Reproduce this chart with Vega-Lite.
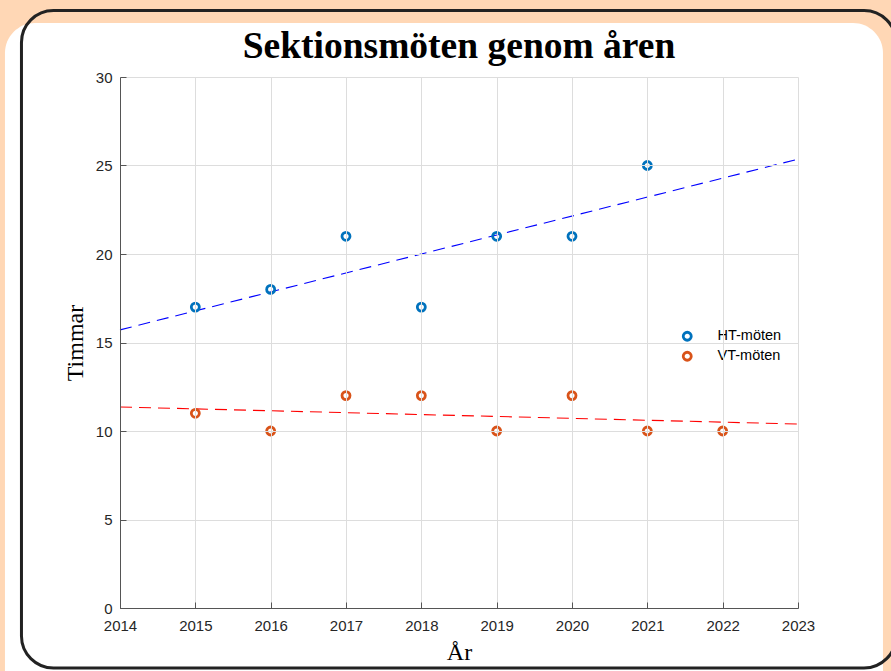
{
  "$schema": "https://vega.github.io/schema/vega-lite/v6.json",
  "width": 678,
  "height": 531,
  "autosize": {"type": "none"},
  "padding": {"left": 120, "top": 77, "right": 93, "bottom": 63},
  "background": "#FFD7B5",
  "title": {
    "text": "Sektionsmöten genom åren",
    "font": "Liberation Serif",
    "fontSize": 37.5,
    "fontWeight": "bold",
    "color": "#000000",
    "anchor": "middle",
    "frame": "group",
    "offset": -57
  },
  "datasets": {
    "points": [
      {"year": 2015, "hours": 17, "series": "HT-möten"},
      {"year": 2016, "hours": 18, "series": "HT-möten"},
      {"year": 2017, "hours": 21, "series": "HT-möten"},
      {"year": 2018, "hours": 17, "series": "HT-möten"},
      {"year": 2019, "hours": 21, "series": "HT-möten"},
      {"year": 2020, "hours": 21, "series": "HT-möten"},
      {"year": 2021, "hours": 25, "series": "HT-möten"},
      {"year": 2015, "hours": 11, "series": "VT-möten"},
      {"year": 2016, "hours": 10, "series": "VT-möten"},
      {"year": 2017, "hours": 12, "series": "VT-möten"},
      {"year": 2018, "hours": 12, "series": "VT-möten"},
      {"year": 2019, "hours": 10, "series": "VT-möten"},
      {"year": 2020, "hours": 12, "series": "VT-möten"},
      {"year": 2021, "hours": 10, "series": "VT-möten"},
      {"year": 2022, "hours": 10, "series": "VT-möten"}
    ]
  },
  "layer": [
    {
      "data": {"values": [{}]},
      "mark": {"type": "rect", "fill": "#FFFFFF", "cornerRadius": 30},
      "encoding": {
        "x": {"datum": 2012.473, "type": "quantitative", "axis": null, "scale": {"domain": [2014, 2023], "nice": false, "zero": false}},
        "x2": {"datum": 2024.128},
        "y": {"datum": 33.05, "type": "quantitative", "axis": null, "scale": {"domain": [0, 30], "nice": false, "zero": false}},
        "y2": {"datum": -5.2}
      }
    },
    {
      "data": {"values": [{}]},
      "mark": {"type": "rect", "fill": null, "stroke": "#222222", "strokeWidth": 3, "cornerRadius": 32},
      "encoding": {
        "x": {"datum": 2012.692, "type": "quantitative", "axis": null},
        "x2": {"datum": 2024.301},
        "y": {"datum": 33.76, "type": "quantitative", "axis": null},
        "y2": {"datum": -3.39}
      }
    },
    {
      "data": {"name": "points"},
      "transform": [
        {"filter": "datum.series === 'HT-möten'"},
        {"regression": "hours", "on": "year", "extent": [2014, 2023]}
      ],
      "mark": {"type": "line", "strokeDash": [12, 7], "strokeWidth": 1.1, "stroke": "#0000FF"},
      "encoding": {
        "x": {"field": "year", "type": "quantitative", "axis": null},
        "y": {"field": "hours", "type": "quantitative", "axis": null}
      }
    },
    {
      "data": {"name": "points"},
      "transform": [
        {"filter": "datum.series === 'VT-möten'"},
        {"regression": "hours", "on": "year", "extent": [2014, 2023]}
      ],
      "mark": {"type": "line", "strokeDash": [12, 7], "strokeWidth": 1.1, "stroke": "#FF0000"},
      "encoding": {
        "x": {"field": "year", "type": "quantitative", "axis": null},
        "y": {"field": "hours", "type": "quantitative", "axis": null}
      }
    },
    {
      "data": {"name": "points"},
      "mark": {"type": "point", "shape": "circle", "filled": false, "size": 64, "strokeWidth": 2.8, "opacity": 1},
      "encoding": {
        "x": {
          "field": "year",
          "type": "quantitative",
          "axis": {
            "title": "År",
            "grid": true,
            "values": [2014, 2015, 2016, 2017, 2018, 2019, 2020, 2021, 2022, 2023],
            "format": "d",
            "titleFont": "Liberation Serif",
            "titleFontSize": 24,
            "titleFontWeight": "normal",
            "titleColor": "#000000",
            "titlePadding": 7,
            "labelFont": "Liberation Sans",
            "labelFontSize": 15,
            "labelColor": "#262626",
            "labelFlush": false,
            "labelOverlap": false,
            "labelPadding": 16,
            "tickSize": -6,
            "tickColor": "#555555",
            "domainColor": "#555555",
            "gridColor": "#DDDDDD",
            "gridWidth": 1,
            "zindex": 1
          }
        },
        "y": {
          "field": "hours",
          "type": "quantitative",
          "axis": {
            "title": "Timmar",
            "grid": true,
            "values": [0, 5, 10, 15, 20, 25, 30],
            "titleFont": "Liberation Serif",
            "titleFontSize": 24,
            "titleFontWeight": "normal",
            "titleColor": "#000000",
            "titlePadding": 8,
            "labelFont": "Liberation Sans",
            "labelFontSize": 15,
            "labelColor": "#262626",
            "labelFlush": false,
            "labelOverlap": false,
            "labelPadding": 14,
            "tickSize": -6,
            "tickColor": "#555555",
            "domainColor": "#555555",
            "gridColor": "#DDDDDD",
            "gridWidth": 1,
            "zindex": 1
          }
        },
        "color": {
          "field": "series",
          "type": "nominal",
          "scale": {"domain": ["HT-möten", "VT-möten"], "range": ["#0072BD", "#D95319"]},
          "legend": {
            "title": null,
            "orient": "none",
            "legendX": 560,
            "legendY": 252,
            "symbolType": "circle",
            "symbolSize": 64,
            "symbolStrokeWidth": 2.8,
            "symbolFillColor": "transparent",
            "labelFont": "Liberation Sans",
            "labelFontSize": 14.5,
            "labelColor": "#000000",
            "labelOffset": 23,
            "rowPadding": 0
          }
        }
      }
    }
  ],
  "resolve": {"axis": {"x": "independent", "y": "independent"}},
  "config": {
    "view": {"stroke": null}
  }
}
